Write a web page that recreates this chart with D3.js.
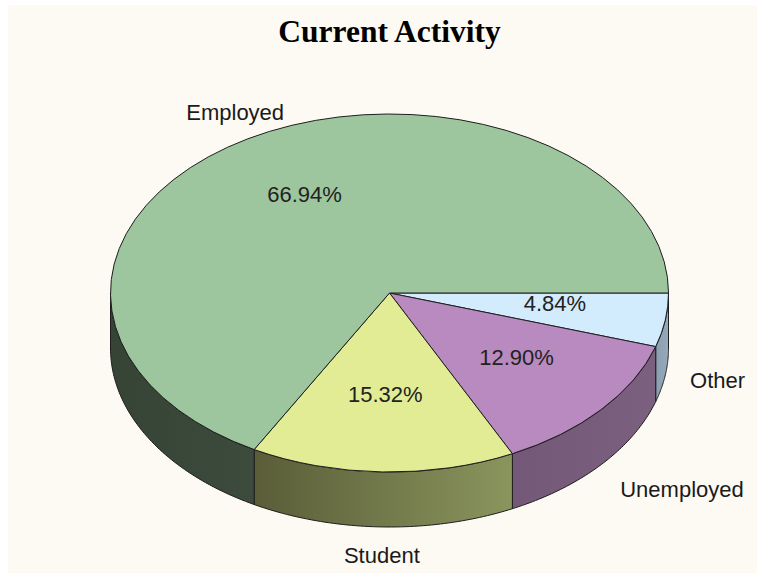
<!DOCTYPE html>
<html>
<head>
<meta charset="utf-8">
<script src="https://cdn.jsdelivr.net/npm/d3@7"></script>
<style>
  html, body { margin: 0; padding: 0; background: #ffffff; }
  svg { display: block; }
</style>
</head>
<body>
<div id="chart"></div>
<script>
// data
var categories = ["Other", "Unemployed", "Student", "Employed"];
var shares = [4.84, 12.90, 15.32, 66.94];
var topColors = ["#d2ebfd", "#b88abf", "#e1ec95", "#9dc69f"];
// side walls: left / right shade of each slice
var sideColors = [
    ["#8a9eb0", "#96aabc"],
    ["#745878", "#7c607f"],
    ["#5a5d38", "#8a955d"],
    ["#364436", "#3d4b3d"]
];

var width = 761, height = 573;
var cx = 389.5, cy = 293, rx = 279, ry = 179, depth = 55;

var svg = d3.select("#chart").append("svg")
    .attr("width", width)
    .attr("height", height);

svg.append("rect")
    .attr("x", 8).attr("y", 5)
    .attr("width", 749).attr("height", 568)
    .attr("fill", "#fdf9f3");

svg.append("text")
    .attr("x", cx).attr("y", 42)
    .attr("text-anchor", "middle")
    .attr("font-family", "'Liberation Serif', 'Times New Roman', serif")
    .attr("font-weight", "bold")
    .attr("font-size", 31.5)
    .attr("fill", "#000")
    .text("Current Activity");

// start at 3 o'clock, go clockwise
var pie = d3.pie().sort(null)
    .startAngle(Math.PI / 2)
    .endAngle(Math.PI / 2 + 2 * Math.PI);
var arcs = pie(shares);

function px(a, k) { return cx + rx * k * Math.sin(a); }
function py(a, k) { return cy - ry * k * Math.cos(a); }

var defs = svg.append("defs");
var g = svg.append("g");

// side walls (front half only: angles PI/2 .. 3PI/2)
arcs.forEach(function (d, i) {
    var s = Math.max(d.startAngle, Math.PI / 2);
    var e = Math.min(d.endAngle, 3 * Math.PI / 2);
    if (s >= e) return;
    var n = 60, pts = [];
    for (var j = 0; j <= n; j++) {
        var a = s + (e - s) * j / n;
        pts.push([px(a, 1), py(a, 1)]);
    }
    for (var j = n; j >= 0; j--) {
        var a = s + (e - s) * j / n;
        pts.push([px(a, 1), py(a, 1) + depth]);
    }
    var x0 = d3.min(pts, function (p) { return p[0]; });
    var x1 = d3.max(pts, function (p) { return p[0]; });
    var grad = defs.append("linearGradient")
        .attr("id", "side" + i)
        .attr("gradientUnits", "userSpaceOnUse")
        .attr("x1", x0).attr("x2", x1).attr("y1", 0).attr("y2", 0);
    grad.append("stop").attr("offset", "0%").attr("stop-color", sideColors[i][0]);
    grad.append("stop").attr("offset", "100%").attr("stop-color", sideColors[i][1]);
    g.append("path")
        .attr("d", d3.line()(pts) + "Z")
        .attr("fill", "url(#side" + i + ")")
        .attr("stroke", "#1e1e1e")
        .attr("stroke-width", 1)
        .attr("stroke-linejoin", "round");
});

// top faces
var arc = d3.arc().innerRadius(0).outerRadius(rx);
g.append("g")
    .attr("transform", "translate(" + cx + "," + cy + ") scale(1," + (ry / rx) + ")")
    .selectAll("path")
    .data(arcs)
    .enter().append("path")
    .attr("d", arc)
    .attr("fill", function (d, i) { return topColors[i]; })
    .attr("stroke", "#1e1e1e")
    .attr("stroke-width", 1)
    .attr("vector-effect", "non-scaling-stroke")
    .attr("stroke-linejoin", "round");

var fontSans = "'Liberation Sans', Arial, sans-serif";
var fs = 22;

// percentages on the top face
svg.selectAll("text.pct")
    .data(arcs)
    .enter().append("text")
    .attr("class", "pct")
    .attr("x", function (d) { return px((d.startAngle + d.endAngle) / 2, 0.6); })
    .attr("y", function (d) { return py((d.startAngle + d.endAngle) / 2, 0.6) + 2; })
    .attr("text-anchor", "middle")
    .attr("font-family", fontSans)
    .attr("font-size", fs)
    .attr("fill", "#222")
    .text(function (d) { return d.data.toFixed(2) + "%"; });

// category labels outside
svg.selectAll("text.cat")
    .data(arcs)
    .enter().append("text")
    .attr("class", "cat")
    .attr("x", function (d) {
        var a = (d.startAngle + d.endAngle) / 2;
        return px(a, 1.09);
    })
    .attr("y", function (d) {
        var a = (d.startAngle + d.endAngle) / 2;
        var c = -Math.cos(a);   // >0 in the front half
        var s = Math.sin(a);
        var y = py(a, 1.1) + (c > 0 ? depth : 0);
        return y + fs * (0.3 + 0.55 * c + (c > 0 ? 0.6 * c * s : 0));
    })
    .attr("text-anchor", function (d) {
        var s = Math.sin((d.startAngle + d.endAngle) / 2);
        return s > 0.3 ? "start" : (s < -0.9 ? "end" : "middle");
    })
    .attr("font-family", fontSans)
    .attr("font-size", fs)
    .attr("fill", "#1a1a1a")
    .text(function (d, i) { return categories[i]; });
</script>
</body>
</html>
